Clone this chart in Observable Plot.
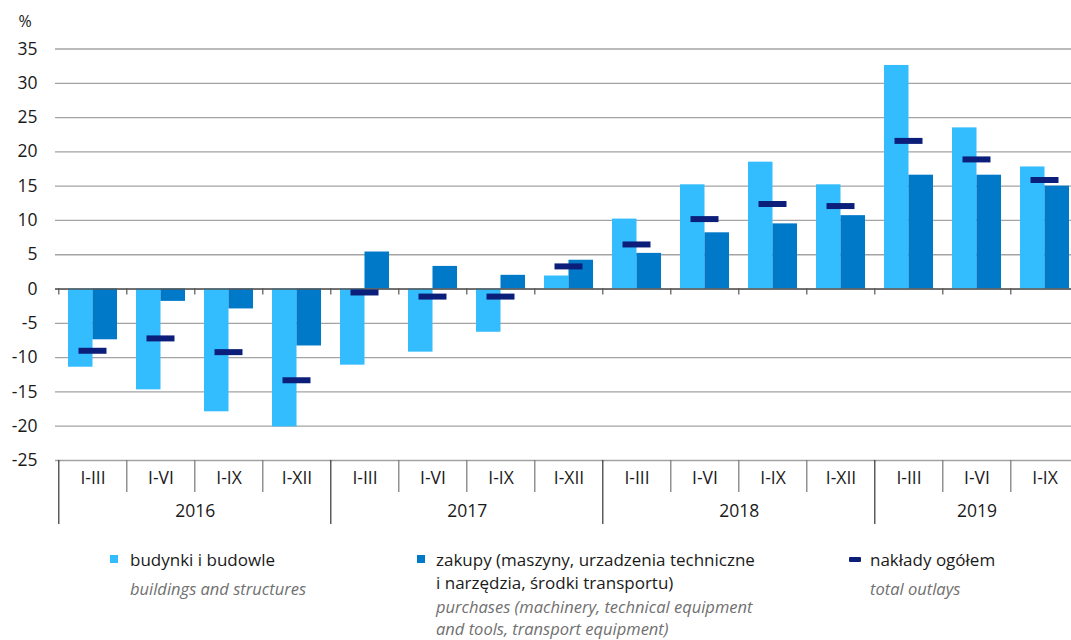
<!DOCTYPE html>
<html><head><meta charset="utf-8">
<script src="https://cdn.jsdelivr.net/npm/d3@7"></script>
<script src="https://cdn.jsdelivr.net/npm/@observablehq/plot@0.6"></script>
<style>
html,body{margin:0;padding:0;overflow:hidden;background:#fff;width:1071px;height:640px}
body{font-family:"Open Sans",sans-serif;position:relative;color:#1a1a1a}
#chart{position:absolute;left:0;top:0;width:1081px}
#chart svg{max-width:none !important}
.leg{position:absolute;font-size:17px;line-height:23px;white-space:nowrap;color:#1a1a1a}
.leg .en{font-style:italic;color:#707070;font-size:16.5px;line-height:22px;margin-top:7px}
.leg .en.m2{margin-top:2px}
.sw{position:absolute}
</style>
</head><body>
<div id="chart"></div>
<div class="sw" style="left:110px;top:555px;width:8px;height:8px;background:#33bdfe"></div>
<div class="leg" style="left:130px;top:548px"><div>budynki i budowle</div><div class="en">buildings and structures</div></div>
<div class="sw" style="left:417px;top:555px;width:8px;height:8px;background:#0079c8"></div>
<div class="leg" style="left:436px;top:548px"><div>zakupy (maszyny, urzadzenia techniczne</div><div>i narzędzia, środki transportu)</div><div class="en m2">purchases (machinery, technical equipment<br>and tools, transport equipment)</div></div>
<div class="sw" style="left:849px;top:557px;width:12px;height:5px;background:#0b1f7a;border-radius:1px"></div>
<div class="leg" style="left:870px;top:548px"><div>nakłady ogółem</div><div class="en">total outlays</div></div>
<script>
const years = ["2016","2016","2016","2016","2017","2017","2017","2017","2018","2018","2018","2018","2019","2019","2019"];
const periods = ["I-III","I-VI","I-IX","I-XII","I-III","I-VI","I-IX","I-XII","I-III","I-VI","I-IX","I-XII","I-III","I-VI","I-IX"];
const buildings = [-11.4,-14.7,-17.9,-20.1,-11.1,-9.2,-6.3,1.9,10.2,15.2,18.5,15.2,32.6,23.5,17.8];
const purchases = [-7.4,-1.8,-2.9,-8.3,5.4,3.3,2.0,4.2,5.2,8.2,9.5,10.7,16.6,16.6,15.0];
const total = [-9.0,-7.2,-9.2,-13.3,-0.5,-1.1,-1.1,3.3,6.5,10.2,12.4,12.1,21.6,18.9,15.9];
const yTicks = [-25,-20,-15,-10,-5,0,5,10,15,20,25,30,35];
const yearLabels = ["2016","2017","2018","2019"];

const rows = years.map((y, i) => ({key: y + " " + periods[i], year: y, period: periods[i],
  buildings: buildings[i], purchases: purchases[i], total: total[i]}));
const keys = rows.map(d => d.key);

const W = 1081, ML = 55, MR = 0, MT = 48.5, MB = 75, H = 535;
const step = (W - ML - MR) / keys.length;
const padIn = 0.284;
const bw = step * (1 - padIn);

const yearStarts = rows.filter((d, i) => i === 0 || rows[i - 1].year !== d.year).map(d => d.key);
const periodStarts = rows.filter((d, i) => i > 0 && rows[i - 1].year === d.year).map(d => d.key);

const yearMarks = yearLabels.map(yr => {
  const ks = rows.filter(d => d.year === yr).map(d => d.key);
  const n = ks.length;
  const mid = n % 2 === 0 ? ks[n / 2 - 1] : ks[(n - 1) / 2];
  return Plot.text([yr], {x: () => mid, text: d => d, frameAnchor: "bottom", lineAnchor: "middle", dy: 51,
    dx: n % 2 === 0 ? step / 2 : 0, fontSize: 17.5, fill: "#1a1a1a"});
});

const chart = Plot.plot({
  width: W, height: H, marginLeft: ML, marginRight: MR, marginTop: MT, marginBottom: MB,
  style: {fontFamily: "Open Sans, sans-serif", fontSize: "17px", color: "#1a1a1a", background: "#fff", overflow: "visible", maxWidth: "none"},
  x: {domain: keys, paddingInner: padIn, paddingOuter: padIn / 2, axis: null},
  y: {domain: [-25, 35], axis: null},
  marks: [
    Plot.ruleY(yTicks, {stroke: "#a3a3a3", strokeWidth: 1.3}),
    Plot.axisY(yTicks, {tickSize: 0, tickPadding: 18, tickFormat: d => String(d), fontSize: 17.5, label: null}),
    Plot.text(["%"], {frameAnchor: "top-left", lineAnchor: "middle", dx: -37, dy: -27, textAnchor: "start", fontSize: 16, fill: "#1a1a1a"}),
    Plot.barY(rows, {x: "key", y: "buildings", fill: "#33bdfe", insetRight: bw / 2}),
    Plot.barY(rows, {x: "key", y: "purchases", fill: "#0079c8", insetLeft: bw / 2}),
    Plot.ruleY([0], {stroke: "#555", strokeWidth: 1.5}),
    Plot.ruleX(keys, {x: d => d, y1: 0, y2: 0, insetBottom: -6, dx: -step / 2, stroke: "#555", strokeWidth: 1.2}),
    Plot.tickY(rows, {x: "key", y: "total", stroke: "#0b1f7a", strokeWidth: 6, insetLeft: 10.5, insetRight: 10.5}),
    Plot.ruleX(periodStarts, {x: d => d, y1: -25, y2: -25, insetBottom: -32, dx: -step / 2, stroke: "#777", strokeWidth: 1.2}),
    Plot.ruleX(yearStarts, {x: d => d, y1: -25, y2: -25, insetBottom: -64, dx: -step / 2, stroke: "#333", strokeWidth: 1.2}),
    Plot.text(rows, {x: "key", text: "period", frameAnchor: "bottom", lineAnchor: "middle", dy: 18, fontSize: 17.5, fill: "#1a1a1a"}),
    ...yearMarks
  ]
});
document.getElementById("chart").appendChild(chart);
</script>
</body></html>
